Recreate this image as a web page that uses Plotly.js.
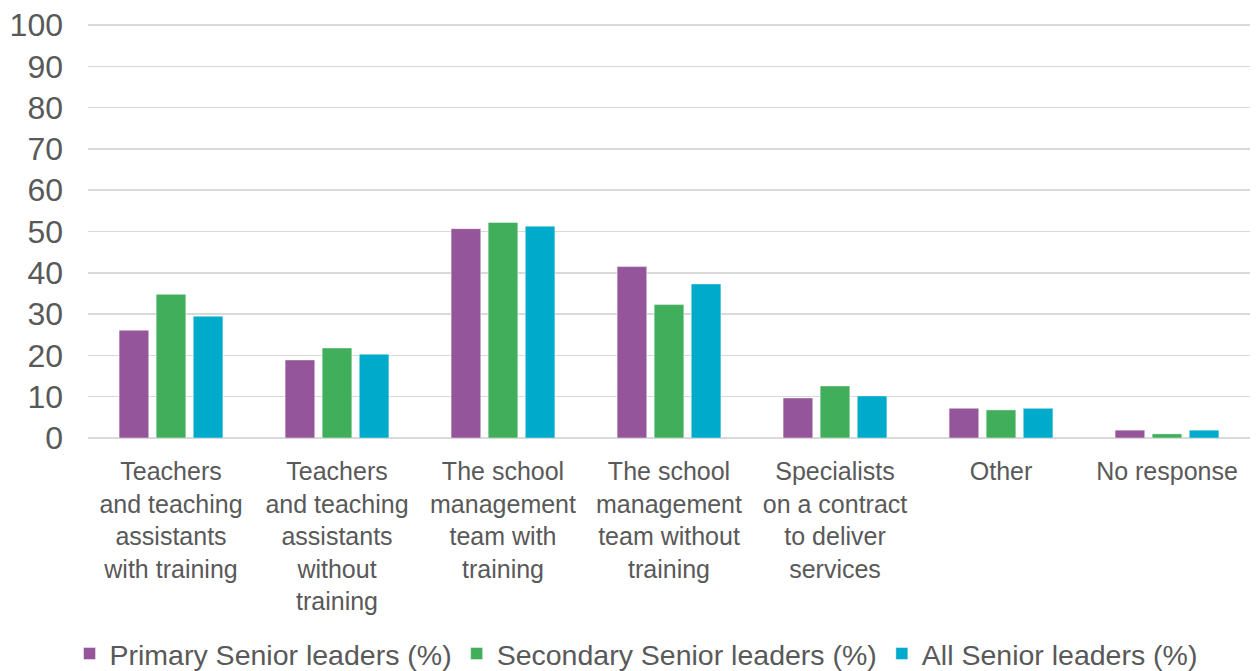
<!DOCTYPE html>
<html>
<head>
<meta charset="utf-8">
<script src="https://cdn.plot.ly/plotly-3.0.1.min.js"></script>
<style>
html,body{margin:0;padding:0;background:#fff;}
#chart{width:1257px;height:671px;}
</style>
</head>
<body>
<div id="chart"></div>
<script>
const categories = [
  "Teachers<br>and teaching<br>assistants<br>with training",
  "Teachers<br>and teaching<br>assistants<br>without<br>training",
  "The school<br>management<br>team with<br>training",
  "The school<br>management<br>team without<br>training",
  "Specialists<br>on a contract<br>to deliver<br>services",
  "Other",
  "No response"
];
const seriesNames = [
  "Primary Senior leaders (%)",
  "Secondary Senior leaders (%)",
  "All Senior leaders (%)"
];
const primaryValues   = [26.1, 18.9, 50.7, 41.5, 9.7, 7.2, 1.9];
const secondaryValues = [34.8, 21.8, 52.2, 32.3, 12.6, 6.8, 1.0];
const allValues       = [29.5, 20.3, 51.3, 37.3, 10.2, 7.2, 1.9];
const colors = ["#95559B", "#40AE5B", "#00AACB"];

const values = [primaryValues, secondaryValues, allValues];
const traces = values.map((v, i) => ({
  type: "bar",
  name: seriesNames[i],
  x: categories,
  y: v,
  marker: {color: colors[i], line: {color: "rgba(255,255,255,0.45)", width: 1}},
  hoverinfo: "y+name"
}));

const textColor = "#595959";
const layout = {
  width: 1257,
  height: 671,
  margin: {l: 88, r: 7, t: 24, b: 233},
  paper_bgcolor: "#ffffff",
  plot_bgcolor: "#ffffff",
  font: {family: "Liberation Sans, Arial, sans-serif", color: textColor},
  barmode: "group",
  bargap: 0.33,
  bargroupgap: 0.2,
  showlegend: true,
  xaxis: {
    type: "category",
    showgrid: false,
    showline: false,
    zeroline: false,
    ticks: "",
    tickangle: 0,
    tickfont: {size: 25, color: textColor},
    ticklabelstandoff: 16
  },
  yaxis: {
    range: [0, 100.25],
    tickvals: [0, 10, 20, 30, 40, 50, 60, 70, 80, 90, 100],
    showgrid: true,
    gridcolor: "#D9D9D9",
    gridwidth: 1.5,
    zeroline: true,
    zerolinecolor: "#D9D9D9",
    zerolinewidth: 1.5,
    showline: false,
    ticks: "",
    tickfont: {size: 32, color: textColor},
    ticklabelstandoff: 24
  },
  legend: {
    orientation: "h",
    xref: "container",
    yref: "container",
    x: 0.506,
    xanchor: "center",
    y: 0.0253,
    yanchor: "middle",
    font: {size: 28.5, color: textColor},
    traceorder: "normal"
  }
};

Plotly.newPlot("chart", traces, layout, {displayModeBar: false, staticPlot: true});
</script>
</body>
</html>
